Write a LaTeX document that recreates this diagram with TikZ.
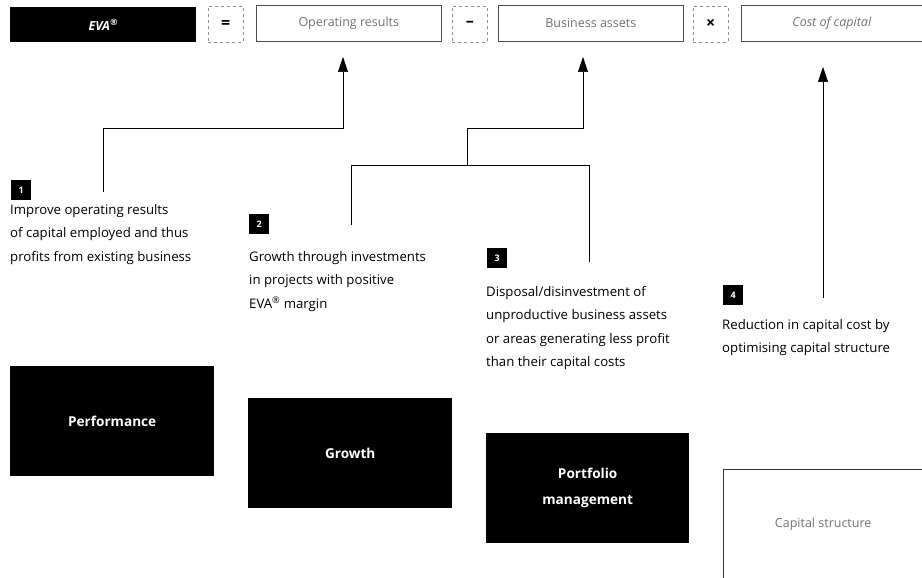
\documentclass[tikz,border=0pt]{standalone}
\usepackage{fontspec}
\setmainfont{Open Sans}
\usetikzlibrary{arrows.meta}
\begin{document}
\begin{tikzpicture}[x=1pt,y=-1pt,
  txt/.style={font=\fontsize{13.2}{23.5}\selectfont, align=left, anchor=north west, inner sep=0pt},
  numbox/.style={fill=black, text=white, font=\fontsize{9}{9}\selectfont\bfseries, minimum size=20pt, inner sep=0pt, anchor=north west},
  bigbox/.style={fill=black, text=white, font=\fontsize{13.6}{26}\selectfont\bfseries, minimum width=204pt, minimum height=110pt, inner sep=0pt, anchor=north west, align=center},
  term/.style={draw=black!70, line width=0.6pt, minimum width=185pt, minimum height=36pt, inner sep=0pt, anchor=north west, text=black!55, font=\fontsize{12.5}{12.5}\selectfont},
  opbox/.style={draw=black!45, dashed, line width=0.5pt, minimum width=35pt, minimum height=36pt, inner sep=0pt, anchor=north west, font=\fontsize{16}{16}\selectfont\bfseries},
  conn/.style={line width=0.7pt, black},
  arr/.style={conn, -{Triangle[width=10pt,length=15pt]}}]

\useasboundingbox[fill=white] (0,0) rectangle (922,578);

% top formula row
\node[fill=black, text=white, minimum width=186pt, minimum height=35pt, inner sep=0pt, anchor=north west, font=\fontsize{12.5}{12.5}\selectfont\bfseries\itshape] (eva) at (10,7) {EVA\textsuperscript{®}};
\node[opbox] (eq) at (208,6) {=};
\node[opbox] (minus) at (452,6) {–};
\node[opbox] (times) at (693,6) {×};
\node[term] (opres) at (256,5) {Operating results};
\node[term] (busas) at (498,5) {Business assets};
\node[term, minimum width=181pt, font=\fontsize{12.5}{12.5}\selectfont\itshape] (coc) at (741,5) {Cost of capital};

% numbered explanations
\node[numbox] (n1) at (11,180) {1};
\node[txt] (t1) at (10,204) {Improve operating results\\of capital employed and thus\\profits from existing business};

\node[numbox] (n2) at (249,214) {2};
\node[txt] (t2) at (249,251) {Growth through investments\\in projects with positive\\EVA\textsuperscript{®} margin};

\node[numbox] (n3) at (487,248) {3};
\node[txt] (t3) at (486,286) {Disposal/disinvestment of\\unproductive business assets\\or areas generating less profit\\than their capital costs};

\node[numbox] (n4) at (723,285) {4};
\node[txt] (t4) at (722,319) {Reduction in capital cost by\\optimising capital structure};

% lever boxes
\node[bigbox] (perf) at (10,366) {Performance};
\node[bigbox] (grow) at (248,398) {Growth};
\node[bigbox, minimum width=203pt] (port) at (486,433) {Portfolio\\management};
\node[minimum width=200pt, minimum height=110pt, inner sep=0pt, anchor=north west, text=black!55, font=\fontsize{12.5}{12.5}\selectfont] (capst) at (723,469) {Capital structure};
\draw[line width=0.6pt, black!80] (capst.south west) -- (capst.north west) -- (capst.north east);

% connectors
\coordinate (s1) at (103,192);
\coordinate (j1) at (343,128);
\coordinate (a1) at (343,57);
\draw[arr] (s1) |- (j1) -- (a1);

\coordinate (s2) at (351,225);
\coordinate (s3) at (589,262);
\coordinate (m) at (467,165);
\coordinate (j2) at (583,128);
\coordinate (a2) at (583,57);
\draw[conn] (s2) |- (s3 |- m) -- (s3);
\draw[arr] (m) |- (j2) -- (a2);

\coordinate (s4) at (823,298);
\coordinate (a4) at (823,67);
\draw[arr] (s4) -- (a4);
\end{tikzpicture}
\end{document}
